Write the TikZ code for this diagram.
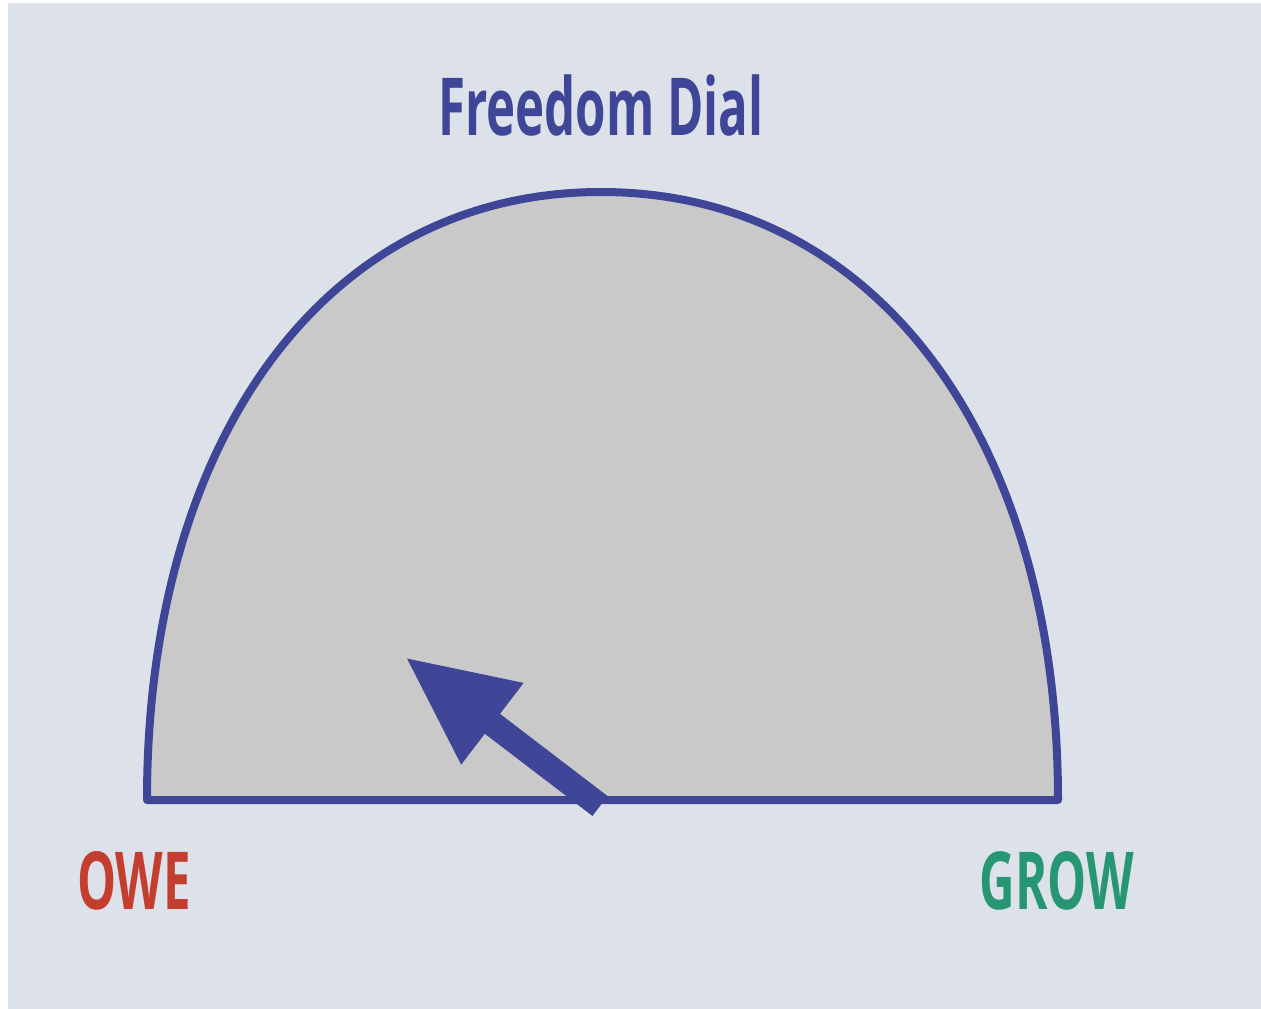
\documentclass[tikz,border=0pt]{standalone}
\usepackage{fontspec}
\setmainfont{Open Sans}
\usetikzlibrary{arrows.meta}
\definecolor{dialblue}{RGB}{63,69,151}
\definecolor{dialgray}{RGB}{201,201,201}
\definecolor{bgblue}{RGB}{221,226,234}
\definecolor{owered}{RGB}{196,62,48}
\definecolor{growgreen}{RGB}{38,150,115}
\tikzset{
  label/.style={font=\bfseries\fontsize{80}{80}\selectfont,inner sep=0pt,anchor=base,xscale=0.615}
}
\begin{document}
\begin{tikzpicture}[x=1pt,y=-1pt]
    \useasboundingbox (0,0) rectangle (1261,1009);
    \fill[white] (0,0) rectangle (1261,1009);
    \fill[bgblue] (8,3) rectangle (1261,1009);
    \draw[dialblue,line width=8pt,fill=dialgray,line join=round]
      (147,800) .. controls (147,440) and (325,192) .. (601,192)
      .. controls (877,192) and (1058,440) .. (1058,800) -- cycle;
    \coordinate (pivot) at (600,806);
    \coordinate (tip) at (405,657);
    \draw[dialblue,line width=25pt,-{Triangle[length=110pt,width=95pt]}] (pivot) -- (tip);
    \node[label,text=dialblue] (title) at (601,135) {Freedom Dial};
    \node[label,text=owered] (owe) at (134,909) {OWE};
    \node[label,text=growgreen] (grow) at (1057,909) {GROW};
\end{tikzpicture}
\end{document}
